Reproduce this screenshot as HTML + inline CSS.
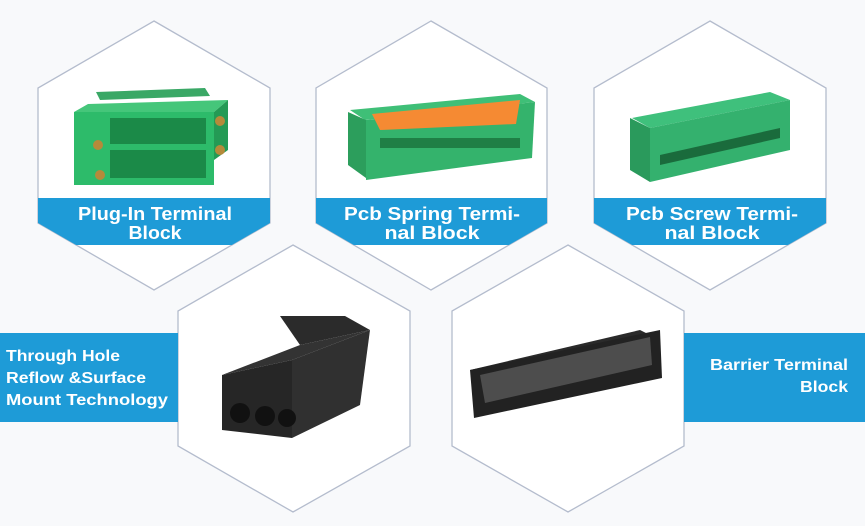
<!DOCTYPE html>
<html><head><meta charset="utf-8"><style>
html,body{margin:0;padding:0;background:#f8f9fb;}
svg{display:block}
text{font-family:"Liberation Sans",Arial,sans-serif;font-weight:bold;fill:#fff;}
</style></head><body>
<svg width="865" height="526" viewBox="0 0 865 526" xmlns="http://www.w3.org/2000/svg">
<defs>
<clipPath id="c1"><polygon points="154,21 270,88 270,223 154,290 38,223 38,88"/></clipPath>
<clipPath id="c2"><polygon points="431,21 547,88 547,223 431,290 316,223 316,88"/></clipPath>
<clipPath id="c3"><polygon points="710,21 826,88 826,223 710,290 594,223 594,88"/></clipPath>
</defs>
<rect width="865" height="526" fill="#f8f9fb"/>
<g fill="#fff" stroke="#b4bccd" stroke-width="1.3">
<polygon points="154,21 270,88 270,223 154,290 38,223 38,88"/>
<polygon points="431,21 547,88 547,223 431,290 316,223 316,88"/>
<polygon points="710,21 826,88 826,223 710,290 594,223 594,88"/>
<polygon points="293,245 410,311 410,446 293,512 178,446 178,311"/>
<polygon points="568,245 684,311 684,446 568,512 452,446 452,311"/>
</g>
<rect x="0" y="198" width="865" height="47" fill="#1e9bd7" clip-path="url(#c1)"/>
<rect x="0" y="198" width="865" height="47" fill="#1e9bd7" clip-path="url(#c2)"/>
<rect x="0" y="198" width="865" height="47" fill="#1e9bd7" clip-path="url(#c3)"/>
<rect x="0" y="333" width="178" height="89" fill="#1e9bd7"/>
<rect x="684" y="333" width="181" height="89" fill="#1e9bd7"/>
<g font-size="18.5" text-anchor="middle">
<text x="155" y="220" textLength="154" lengthAdjust="spacingAndGlyphs">Plug-In Terminal</text><text x="155" y="239" textLength="53" lengthAdjust="spacingAndGlyphs">Block</text>
<text x="432" y="220" textLength="176" lengthAdjust="spacingAndGlyphs">Pcb Spring  Termi-</text><text x="432" y="239" textLength="95" lengthAdjust="spacingAndGlyphs">nal Block</text>
<text x="712" y="220" textLength="172" lengthAdjust="spacingAndGlyphs">Pcb Screw  Termi-</text><text x="712" y="239" textLength="95" lengthAdjust="spacingAndGlyphs">nal Block</text>
</g>
<g font-size="16">
<text x="6" y="361" textLength="114" lengthAdjust="spacingAndGlyphs">Through Hole</text>
<text x="6" y="383" textLength="140" lengthAdjust="spacingAndGlyphs">Reflow &amp;Surface</text>
<text x="6" y="405" textLength="162" lengthAdjust="spacingAndGlyphs">Mount  Technology</text>
<text x="710" y="370" textLength="138" lengthAdjust="spacingAndGlyphs">Barrier Terminal</text>
<text x="800" y="392" textLength="48" lengthAdjust="spacingAndGlyphs">Block</text>
</g>
<!-- product 1 -->
<g>
<polygon points="96,92 205,88 210,96 100,100" fill="#3aa866"/>
<rect x="74" y="112" width="140" height="73" fill="#2dbb6a"/>
<polygon points="74,112 88,104 228,100 214,112" fill="#45c67a"/>
<polygon points="214,112 228,100 228,150 214,160" fill="#249a55"/>
<g fill="#1b8a48"><rect x="110" y="118" width="96" height="26"/><rect x="110" y="150" width="96" height="28"/></g>
<circle cx="98" cy="145" r="5" fill="#b58a3a"/><circle cx="100" cy="175" r="5" fill="#b58a3a"/>
<circle cx="220" cy="121" r="5" fill="#b58a3a"/><circle cx="220" cy="150" r="5" fill="#b58a3a"/>
</g>
<!-- product 2 -->
<g>
<polygon points="350,110 520,94 535,102 365,120" fill="#3fbf77"/>
<polygon points="348,112 366,120 366,178 348,165" fill="#2c9e5c"/>
<polygon points="366,120 535,102 532,158 366,180" fill="#34b36c"/>
<polygon points="372,114 520,100 516,124 380,130" fill="#f58a33"/>
<g fill="#1f7f45"><rect x="380" y="138" width="140" height="10"/></g>
</g>
<!-- product 3 -->
<g>
<polygon points="632,118 770,92 790,100 650,128" fill="#3fc07c"/>
<polygon points="630,118 650,128 650,182 630,170" fill="#2a9a5c"/>
<polygon points="650,128 790,100 790,150 650,182" fill="#34b16e"/>
<polygon points="660,155 780,128 780,138 660,165" fill="#1a6b3c"/>
</g>
<!-- product 4 -->
<g>
<polygon points="280,316 345,316 370,330 300,345" fill="#2b2b2b"/>
<polygon points="222,375 300,345 370,330 292,360" fill="#333"/>
<polygon points="222,375 292,360 292,438 222,430" fill="#262626"/>
<polygon points="292,360 370,330 360,405 292,438" fill="#303030"/>
<circle cx="240" cy="413" r="10" fill="#111"/><circle cx="265" cy="416" r="10" fill="#111"/><circle cx="287" cy="418" r="9" fill="#111"/>
</g>
<!-- product 5 -->
<g>
<polygon points="470,370 640,330 660,340 490,380" fill="#2a2a2a"/>
<polygon points="470,370 660,330 662,378 474,418" fill="#222"/>
<polygon points="480,375 650,337 652,365 485,403" fill="#777" opacity="0.5"/>
</g>
</svg>
</body></html>
